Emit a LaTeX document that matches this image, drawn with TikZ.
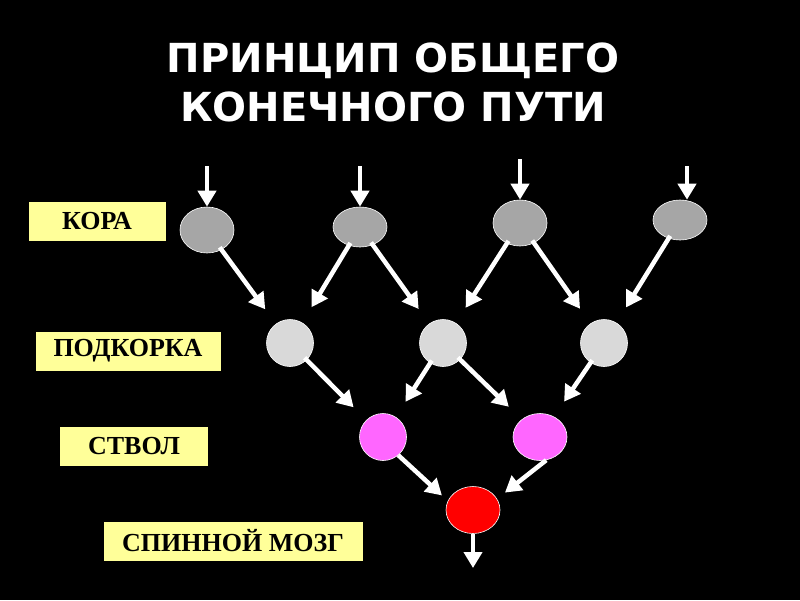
\documentclass[tikz,border=0pt]{standalone}
\usepackage{fontspec}
\newfontfamily\titlefont{DejaVu Sans}
\newfontfamily\labelfont{Liberation Serif}
\usepackage{tikz}
\usetikzlibrary{arrows.meta, shapes.geometric}

\definecolor{labelyellow}{RGB}{255,255,153}
\definecolor{cortexgray}{RGB}{166,166,166}
\definecolor{subgray}{RGB}{217,217,217}
\definecolor{stempink}{RGB}{255,102,255}
\definecolor{cordred}{RGB}{255,0,0}

\begin{document}
\begin{tikzpicture}[
        x=1pt, y=-1pt,
        lbl/.style={fill=labelyellow, minimum height=39pt, inner sep=0pt,
        font=\labelfont\bfseries\fontsize{26}{30}\selectfont, text=black},
        cell/.style={shape=ellipse, draw=white, line width=0.6pt, inner sep=0pt},
        arr/.style={-{Triangle[width=18pt, length=16pt]}, white, line width=4.5pt,
        shorten <=-3pt, shorten >=18pt}
      ]
      \fill[black] (0,0) rectangle (800,600);
      \useasboundingbox (0,0) rectangle (800,600);

      \node[text=white, align=center, font=\titlefont\bfseries\fontsize{40}{49}\selectfont]
        (title) at (393,82) {ПРИНЦИП ОБЩЕГО\\КОНЕЧНОГО ПУТИ};

      % level labels
      \node[lbl, minimum width=137pt] (kora)  at (97,221)  {КОРА};
      \node[lbl, minimum width=185pt] (podk)  at (128,351) {ПОДКОРКА};
      \node[lbl, minimum width=148pt] (stvol) at (134,446) {СТВОЛ};
      \node[lbl, minimum width=259pt] (mozg)  at (233,541) {СПИННОЙ МОЗГ};

      % cortex
      \node[cell, fill=cortexgray, minimum width=54pt, minimum height=46pt] (c1) at (207,230) {};
      \node[cell, fill=cortexgray, minimum width=54pt, minimum height=40pt] (c2) at (360,227) {};
      \node[cell, fill=cortexgray, minimum width=54pt, minimum height=46pt] (c3) at (520,223) {};
      \node[cell, fill=cortexgray, minimum width=54pt, minimum height=40pt] (c4) at (680,220) {};
      % subcortex
      \node[cell, fill=subgray, minimum width=47pt, minimum height=47pt] (s1) at (290,343) {};
      \node[cell, fill=subgray, minimum width=47pt, minimum height=47pt] (s2) at (443,343) {};
      \node[cell, fill=subgray, minimum width=47pt, minimum height=47pt] (s3) at (604,343) {};
      % stem
      \node[cell, fill=stempink, minimum width=47pt, minimum height=47pt] (b1) at (383,437) {};
      \node[cell, fill=stempink, minimum width=54pt, minimum height=47pt] (b2) at (540,437) {};
      % spinal cord
      \node[cell, fill=cordred, minimum width=54pt, minimum height=47pt] (sp) at (473,510) {};

      \coordinate (in1) at (207,166);
      \coordinate (in2) at (360,166);
      \coordinate (in3) at (520,159);
      \coordinate (in4) at (687,166);
      \coordinate (out) at (473,568);

      \draw[arr, shorten <=0pt, shorten >=0pt] (in1) -- (c1);
      \draw[arr, shorten <=0pt, shorten >=0pt] (in2) -- (c2);
      \draw[arr, shorten <=0pt, shorten >=0pt] (in3) -- (c3);
      \draw[arr, shorten <=0pt, shorten >=0pt] (in4) -- (in4 |- c4.north);

      \draw[arr] (c1) -- (s1);
      \draw[arr] (c2) -- (s1);
      \draw[arr] (c2) -- (s2);
      \draw[arr] (c3) -- (s2);
      \draw[arr] (c3) -- (s3);
      \draw[arr] (c4) -- (s3);

      \draw[arr] (s1) -- (b1);
      \draw[arr] (s2) -- (b1);
      \draw[arr] (s2) -- (b2);
      \draw[arr] (s3) -- (b2);

      \draw[arr, shorten <=0pt, shorten >=8pt] (b1.-50) -- (sp.160);
      \draw[arr, shorten <=0pt, shorten >=10pt] (b2.-75) -- (sp.25);
      \draw[arr, shorten <=0pt, shorten >=0pt] (sp) -- (out);
    \end{tikzpicture}
\end{document}
